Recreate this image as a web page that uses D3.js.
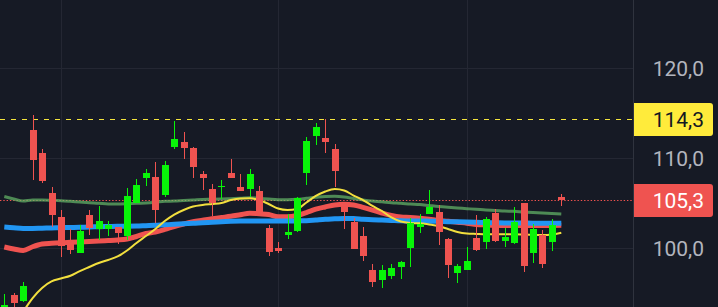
<!DOCTYPE html>
<html>
<head>
<meta charset="utf-8">
<script src="https://cdn.jsdelivr.net/npm/d3@7"></script>
<style>
  html, body { margin: 0; padding: 0; background: #161a25; }
  svg { display: block; }
</style>
</head>
<body>
<svg id="chart" width="718" height="307"></svg>
<script>
// OHLC, oldest candle first
var open = [92.89, 94.78, 94.11, 113.11, 110.56, 106.11, 103.44, 100.56, 99.44, 103.67,
  102.11, 102.11, 102.33, 101.33, 105.00, 107.78, 107.89, 105.89, 111.22, 111.78,
  111.11, 108.22, 106.56, 106.78, 108.33, 106.78, 106.56, 106.33, 102.22, 100.00,
  101.44, 101.89, 108.33, 112.44, 112.22, 111.00, 105.00, 102.89, 101.33, 97.56,
  96.44, 96.89, 97.89, 100.00, 102.33, 103.78, 104.00, 101.00, 97.22, 97.56,
  101.11, 100.67, 103.89, 100.78, 100.56, 105.00, 99.44, 101.44, 100.67, 105.67];
var high = [94.89, 95.00, 96.22, 114.78, 111.00, 106.78, 104.22, 102.11, 102.56, 104.22,
  104.67, 103.00, 102.33, 106.67, 107.67, 108.78, 109.56, 109.67, 114.11, 112.89,
  111.22, 108.56, 107.11, 107.56, 109.89, 108.22, 108.78, 106.89, 102.56, 100.67,
  103.78, 105.67, 112.33, 113.89, 114.33, 111.56, 105.00, 103.33, 102.33, 98.22,
  98.11, 98.22, 98.56, 103.33, 103.78, 106.44, 104.78, 101.11, 98.22, 100.11,
  103.67, 103.44, 104.33, 102.22, 104.56, 105.00, 102.67, 102.00, 103.22, 106.00];
var low = [92.44, 93.22, 94.00, 107.56, 107.22, 102.33, 99.00, 99.33, 99.44, 101.44,
  100.89, 101.33, 100.44, 100.89, 105.00, 106.89, 102.78, 105.67, 111.00, 109.89,
  107.78, 106.44, 103.56, 105.44, 107.78, 106.33, 105.67, 104.00, 99.11, 99.44,
  101.00, 101.78, 107.00, 111.44, 110.56, 106.78, 102.11, 99.89, 98.56, 95.67,
  95.56, 96.56, 96.56, 97.89, 101.67, 103.78, 100.33, 96.67, 96.11, 97.56,
  99.67, 99.89, 100.67, 100.11, 100.44, 97.33, 98.33, 97.78, 99.67, 104.67];
var close = [93.67, 93.89, 95.78, 109.78, 107.44, 103.67, 100.22, 99.78, 101.89, 102.22,
  103.00, 102.56, 101.67, 105.78, 107.00, 108.33, 104.22, 109.22, 112.11, 111.11,
  109.00, 107.78, 105.00, 106.89, 107.78, 106.33, 108.22, 104.00, 99.56, 99.67,
  101.78, 105.56, 111.89, 113.44, 111.78, 108.56, 104.00, 99.89, 99.11, 96.22,
  97.56, 97.78, 98.44, 102.78, 102.67, 104.56, 101.78, 98.11, 98.00, 98.56,
  99.78, 103.22, 100.78, 101.22, 102.89, 98.00, 102.11, 98.22, 102.56, 105.3];

// moving averages, one value per candle
var maGreen = [105.72, 105.44, 105.22, 105.33, 105.33, 105.30, 105.26, 105.19, 105.11, 105.03,
  104.97, 104.89, 104.89, 104.92, 104.97, 105.00, 105.08, 105.19, 105.22, 105.28,
  105.33, 105.39, 105.41, 105.44, 105.48, 105.52, 105.59, 105.52, 105.44, 105.37,
  105.37, 105.41, 105.52, 105.63, 105.72, 105.74, 105.67, 105.50, 105.33, 105.22,
  105.13, 105.03, 104.97, 104.89, 104.83, 104.72, 104.61, 104.52, 104.44, 104.37,
  104.30, 104.22, 104.17, 104.11, 104.08, 104.00, 103.94, 103.89, 103.83, 103.78];
var maBlue = [102.33, 102.24, 102.17, 102.17, 102.20, 102.22, 102.26, 102.28, 102.31, 102.33,
  102.37, 102.39, 102.41, 102.42, 102.44, 102.48, 102.52, 102.58, 102.63, 102.69,
  102.74, 102.81, 102.87, 102.91, 102.96, 102.99, 103.00, 103.00, 103.00, 103.00,
  102.99, 103.01, 103.03, 103.11, 103.19, 103.24, 103.29, 103.27, 103.20, 103.14,
  103.10, 103.06, 103.02, 103.00, 103.00, 102.98, 102.96, 102.93, 102.91, 102.89,
  102.86, 102.82, 102.80, 102.78, 102.78, 102.77, 102.76, 102.76, 102.74, 102.74];
var maRed = [100.11, 99.89, 99.72, 100.14, 100.44, 100.53, 100.59, 100.63, 100.67, 100.72,
  100.78, 100.83, 100.89, 101.00, 101.28, 101.61, 101.78, 102.06, 102.39, 102.67,
  102.92, 103.09, 103.26, 103.39, 103.52, 103.69, 103.86, 103.80, 103.72, 103.48,
  103.47, 103.61, 103.94, 104.31, 104.56, 104.78, 104.86, 104.78, 104.52, 104.22,
  103.89, 103.61, 103.44, 103.39, 103.30, 103.19, 103.06, 102.97, 102.86, 102.76,
  102.61, 102.56, 102.52, 102.50, 102.50, 102.50, 102.50, 102.51, 102.51, 102.52];
var maYellow = [90.89, 92.22, 93.00, 94.44, 95.56, 96.28, 96.61, 96.92, 97.44, 97.89,
  98.33, 98.67, 99.06, 99.72, 100.56, 101.33, 102.11, 103.00, 103.72, 104.22,
  104.61, 104.78, 104.89, 105.00, 105.33, 105.50, 105.52, 105.33, 104.89, 104.39,
  104.22, 104.33, 105.06, 105.78, 106.28, 106.56, 106.39, 105.83, 105.33, 104.67,
  104.11, 103.39, 102.94, 102.78, 102.74, 102.61, 102.44, 102.11, 101.78, 101.61,
  101.56, 101.52, 101.52, 101.52, 101.52, 101.50, 101.47, 101.44, 101.50, 101.70];

var yTicks = [100, 110, 120];
var timeTicks = [6, 29, 49];   // candles where the vertical grid lines fall
var lastPrice = 105.3;
var alertPrice = 114.3;

var upColor = '#08f508', downColor = '#ef5350';
var plotW = 633, H = 307;

var svg = d3.select('#chart');
var x = d3.scaleLinear().domain([0, open.length - 1]).range([4.3, 561.3]);
var y = d3.scaleLinear().domain([100, 120]).range([248, 68]);
var fmt = d3.formatLocale({ decimal: ',', thousands: '.', grouping: [3], currency: ['', ''] }).format('.1f');
var px = function (v) { return Math.round(v) + 0.5; };

svg.append('rect').attr('width', 718).attr('height', H).attr('fill', '#161a25');

svg.append('clipPath').attr('id', 'plot')
  .append('rect').attr('width', plotW).attr('height', H);

// grid
var grid = svg.append('g').attr('stroke', '#242733').attr('stroke-width', 1);
grid.selectAll('.hg').data(yTicks).enter().append('line')
  .attr('x1', 0).attr('x2', plotW)
  .attr('y1', function (d) { return px(y(d)); }).attr('y2', function (d) { return px(y(d)); });
grid.selectAll('.vg').data(timeTicks).enter().append('line')
  .attr('y1', 0).attr('y2', H)
  .attr('x1', function (d) { return px(x(d)); }).attr('x2', function (d) { return px(x(d)); });

var g = svg.append('g').attr('clip-path', 'url(#plot)');

// price lines
g.append('line').attr('x1', 0).attr('x2', plotW)
  .attr('y1', px(y(alertPrice))).attr('y2', px(y(alertPrice)))
  .attr('stroke', '#f5e53c').attr('stroke-dasharray', '5,6');
g.append('line').attr('x1', 0).attr('x2', plotW)
  .attr('y1', px(y(lastPrice))).attr('y2', px(y(lastPrice)))
  .attr('stroke', downColor).attr('stroke-dasharray', '1.4,1.9');

// moving averages
var line = d3.line()
  .x(function (d, i) { return x(i); })
  .y(function (d) { return y(d); })
  .curve(d3.curveMonotoneX);
var mas = [
  { v: maGreen, c: '#66bb6a', w: 3, o: 0.7 },
  { v: maRed, c: '#ef5350', w: 5, o: 1 },
  { v: maBlue, c: '#2196f3', w: 5, o: 1 },
  { v: maYellow, c: '#f2df3e', w: 2, o: 1 }
];
g.selectAll('.ma').data(mas).enter().append('path')
  .attr('d', function (d) { return line(d.v); })
  .attr('fill', 'none')
  .attr('stroke', function (d) { return d.c; })
  .attr('stroke-width', function (d) { return d.w; })
  .attr('stroke-opacity', function (d) { return d.o; })
  .attr('stroke-linejoin', 'round');

// candles
var candle = g.selectAll('.candle').data(d3.range(open.length)).enter().append('g')
  .attr('fill', function (i) { return close[i] >= open[i] ? upColor : downColor; });
candle.append('rect')
  .attr('x', function (i) { return Math.round(x(i)); })
  .attr('width', 1)
  .attr('y', function (i) { return Math.round(y(high[i])); })
  .attr('height', function (i) { return Math.round(y(low[i])) - Math.round(y(high[i])); });
candle.append('rect')
  .attr('x', function (i) { return Math.round(x(i)) - 3; })
  .attr('width', 7)
  .attr('y', function (i) { return Math.round(y(Math.max(open[i], close[i]))); })
  .attr('height', function (i) {
    return Math.max(1, Math.round(y(Math.min(open[i], close[i]))) - Math.round(y(Math.max(open[i], close[i]))));
  });

// right price scale
svg.append('line').attr('x1', plotW + 0.5).attr('x2', plotW + 0.5).attr('y1', 0).attr('y2', H)
  .attr('stroke', '#2f333e');

var font = 'Roboto, "Noto Sans", sans-serif';
svg.selectAll('.tick').data(yTicks).enter().append('text')
  .attr('x', 704).attr('y', function (d) { return y(d); }).attr('dy', '0.36em')
  .attr('text-anchor', 'end').attr('font-family', font).attr('font-size', 21)
  .attr('fill', '#b2b5be')
  .text(fmt);

function badge(price, bg, fg) {
  var cy = y(price), t = Math.round(cy - 16.5), b = t + 33, l = plotW + 1, r = 713, rr = 3;
  svg.append('path')
    .attr('d', 'M' + l + ',' + t + 'H' + (r - rr) + 'Q' + r + ',' + t + ' ' + r + ',' + (t + rr) +
      'V' + (b - rr) + 'Q' + r + ',' + b + ' ' + (r - rr) + ',' + b + 'H' + l + 'Z')
    .attr('fill', bg);
  svg.append('text')
    .attr('x', 704).attr('y', cy).attr('dy', '0.36em')
    .attr('text-anchor', 'end').attr('font-family', font).attr('font-size', 21)
    .attr('fill', fg)
    .text(fmt(price));
}
badge(alertPrice, '#ffeb3b', '#131722');
badge(lastPrice, downColor, '#ffffff');
</script>
</body>
</html>
